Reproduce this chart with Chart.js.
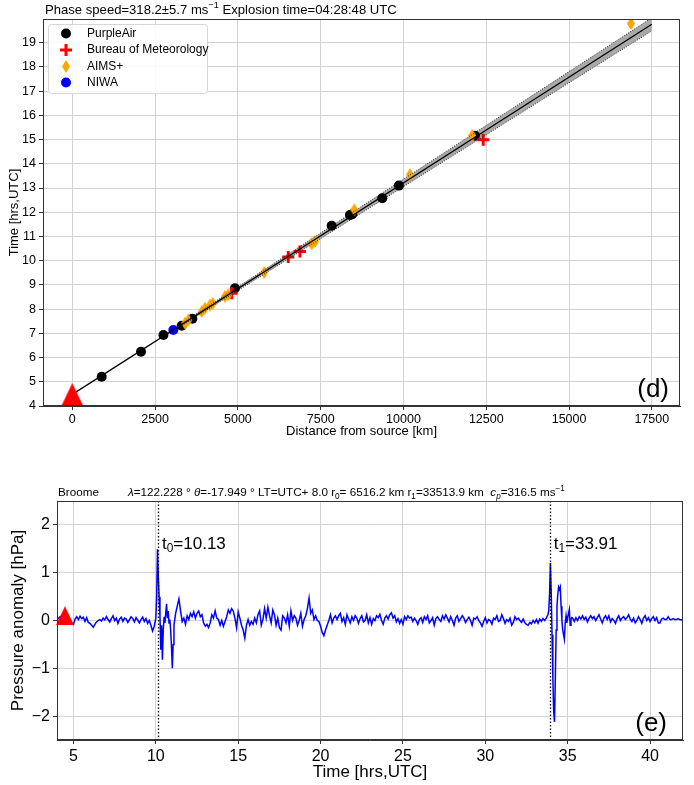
<!DOCTYPE html>
<html><head><meta charset="utf-8">
<script src="https://cdn.jsdelivr.net/npm/chart.js@4"></script>
<style>
html,body{margin:0;padding:0;background:#fff;width:694px;height:785px;overflow:hidden}
canvas{position:absolute;left:0}
#c1{top:0}
#c2{top:440px}
</style></head><body>
<canvas id="c1" width="694" height="440"></canvas>
<canvas id="c2" width="694" height="345"></canvas>
<script>
// ---------- Panel (d) data ----------
const distTicks = [0, 2500, 5000, 7500, 10000, 12500, 15000, 17500];
const timeTicks = [4, 5, 6, 7, 8, 9, 10, 11, 12, 13, 14, 15, 16, 17, 18, 19];

const purpleDist = [887, 2074, 2752, 3303, 3625, 4912, 7831, 8384, 8453, 9359, 9863, 12157];
const purpleTime = [5.21, 6.24, 6.93, 7.31, 7.6, 8.86, 11.44, 11.89, 11.92, 12.58, 13.1, 15.16];

const bomDist = [4811, 6521, 6874, 12408];
const bomTime = [8.66, 10.15, 10.38, 14.99];

const aimsDist = [3402, 3503, 3906, 4006, 4157, 4238, 4610, 4710, 5797, 7227, 7327, 8514, 10195, 12076, 16867];
const aimsTime = [7.42, 7.55, 7.9, 8.04, 8.17, 8.24, 8.52, 8.59, 9.51, 10.69, 10.79, 12.1, 13.55, 15.17, 19.79];

const niwaDist = [3050];
const niwaTime = [7.14];

const fitDist = [0, 17500];
const fitTime = [4.48, 19.76];
const bandDist = [3300, 17500];
const bandHi = [7.41, 20.03];
const bandLo = [7.31, 19.49];

const explosionTime = 4.47;

// ---------- Panel (e) data ----------
const hourTicks = [5, 10, 15, 20, 25, 30, 35, 40];
const presTicks = [-2, -1, 0, 1, 2];
const arrivalTimes = [10.13, 33.91];

const traceTime = [
4.0,4.1,4.2,4.3,4.4,4.5,4.6,4.7,4.8,4.9,
5.0,5.1,5.2,5.3,5.4,5.5,5.6,5.7,5.8,5.9,
6.0,6.1,6.2,6.3,6.4,6.5,6.6,6.7,6.8,6.9,
7.0,7.1,7.2,7.3,7.4,7.5,7.6,7.7,7.8,7.9,
8.0,8.1,8.2,8.3,8.4,8.5,8.6,8.7,8.8,8.9,
9.0,9.1,9.2,9.3,9.4,9.5,9.6,9.7,9.8,9.9,
10.0,
10.05,10.1,10.15,10.2,10.25,10.3,10.35,10.4,10.45,10.5,
10.55,10.6,10.65,10.7,10.75,10.8,10.85,10.9,10.95,11.0,11.05,
11.1,11.2,11.3,11.4,11.5,11.6,11.7,11.8,11.9,12.0,
12.1,12.2,12.3,12.4,12.5,12.6,12.7,12.8,12.9,13.0,
13.1,13.2,13.3,13.4,13.5,13.6,13.7,13.8,13.9,14.0,
14.1,14.2,14.3,14.4,14.5,14.6,14.7,14.8,14.9,15.0,
15.1,15.2,15.3,15.4,15.5,15.6,15.7,15.8,15.9,16.0,
16.1,16.2,16.3,16.4,16.5,16.6,16.7,16.8,16.9,17.0,
17.1,17.2,17.3,17.4,17.5,17.6,17.7,17.8,17.9,18.0,
18.1,18.2,18.3,18.4,18.5,18.6,18.7,18.8,18.9,19.0,
19.1,19.2,19.3,19.4,19.5,19.6,19.7,19.8,19.9,20.0,
20.1,20.2,20.3,20.4,20.5,20.6,20.7,20.8,20.9,21.0,
21.1,21.2,21.3,21.4,21.5,21.6,21.7,21.8,21.9,22.0,
22.1,22.2,22.3,22.4,22.5,22.6,22.7,22.8,22.9,23.0,
23.1,23.2,23.3,23.4,23.5,23.6,23.7,23.8,23.9,24.0,
24.1,24.2,24.3,24.4,24.5,24.6,24.7,24.8,24.9,25.0,
25.1,25.2,25.3,25.4,25.5,25.6,25.7,25.8,25.9,26.0,
26.1,26.2,26.3,26.4,26.5,26.6,26.7,26.8,26.9,27.0,
27.1,27.2,27.3,27.4,27.5,27.6,27.7,27.8,27.9,28.0,
28.1,28.2,28.3,28.4,28.5,28.6,28.7,28.8,28.9,29.0,
29.1,29.2,29.3,29.4,29.5,29.6,29.7,29.8,29.9,30.0,
30.1,30.2,30.3,30.4,30.5,30.6,30.7,30.8,30.9,31.0,
31.1,31.2,31.3,31.4,31.5,31.6,31.7,31.8,31.9,32.0,
32.1,32.2,32.3,32.4,32.5,32.6,32.7,32.8,32.9,33.0,
33.1,33.2,33.3,33.4,33.5,33.6,33.7,33.8,
33.85,33.9,33.95,34.0,34.05,34.1,34.15,34.2,34.25,34.3,
34.35,34.4,34.45,34.5,34.55,34.6,34.65,34.7,34.75,34.8,
34.85,34.9,34.95,35.0,35.05,35.1,35.15,35.2,35.25,
35.3,35.4,35.5,35.6,35.7,35.8,35.9,36.0,36.1,36.2,
36.3,36.4,36.5,36.6,36.7,36.8,36.9,37.0,37.1,37.2,
37.3,37.4,37.5,37.6,37.7,37.8,37.9,38.0,38.1,38.2,
38.3,38.4,38.5,38.6,38.7,38.8,38.9,39.0,39.1,39.2,
39.3,39.4,39.5,39.6,39.7,39.8,39.9,40.0,40.1,40.2,
40.3,40.4,40.5,40.6,40.7,40.8,40.9,41.0,41.1,41.2,
41.3,41.4,41.5,41.6,41.7,41.8,41.9,42.0
];
const tracePres = [
0.02,0.05,0.08,0.04,0.06,0.0,0.03,-0.02,0.0,-0.05,
-0.08,0.03,0.08,0.02,0.09,0.04,0.07,-0.02,0.06,-0.04,
-0.06,-0.1,-0.14,-0.08,-0.03,0.0,0.02,-0.01,0.05,0.01,
0.08,0.02,-0.03,0.04,0.1,0.0,0.05,-0.06,0.03,0.07,
-0.02,0.05,0.03,-0.04,0.02,0.08,0.04,-0.03,0.06,0.01,
-0.05,0.02,0.07,-0.02,0.04,-0.06,0.0,-0.1,-0.22,-0.12,
0.05,
0.5,1.49,0.9,0.49,0.1,-0.61,-0.1,-0.82,-0.2,0.08,
-0.05,0.15,0.35,0.05,0.2,-0.05,0.02,-0.2,-0.55,-1.0,-0.5,
-0.1,0.15,0.3,0.45,0.2,-0.02,0.05,-0.08,0.1,0.02,
0.15,0.08,0.18,0.05,0.15,0.2,0.08,0.12,-0.05,-0.12,
-0.08,-0.15,-0.05,0.12,0.05,0.2,0.05,0.02,-0.1,0.0,
-0.12,-0.02,0.08,0.22,0.15,0.25,0.2,0.05,-0.15,0.18,
0.05,-0.1,-0.2,-0.37,-0.1,0.02,-0.1,-0.02,-0.08,0.05,
-0.05,0.12,0.2,-0.1,0.02,0.25,0.05,0.28,0.1,-0.05,
0.22,0.12,-0.1,0.05,-0.15,-0.2,0.1,0.05,-0.05,0.12,
-0.12,0.2,0.0,0.1,0.05,-0.1,0.0,0.15,-0.12,0.02,
0.1,0.25,0.47,0.15,0.22,0.02,0.1,0.0,-0.02,-0.12,
-0.25,-0.32,-0.2,-0.1,0.0,0.12,-0.05,0.05,0.1,0.02,
0.1,0.15,-0.02,0.06,-0.08,0.12,0.03,-0.05,0.08,0.0,
0.1,0.05,-0.06,0.04,0.1,-0.03,0.0,0.12,-0.05,0.06,
-0.08,0.04,0.0,0.1,0.06,0.13,0.0,-0.08,0.05,0.1,
0.03,0.12,0.16,0.05,0.1,-0.03,0.04,-0.06,0.02,-0.08,
0.08,0.02,0.1,0.05,0.07,-0.02,0.05,0.0,-0.08,0.02,
0.06,-0.04,0.08,0.02,0.1,-0.05,0.0,0.06,-0.1,0.04,
0.08,0.02,-0.02,0.1,0.03,0.12,0.05,-0.03,0.08,0.0,
-0.1,0.05,0.1,-0.02,0.04,0.1,0.05,-0.04,0.02,0.07,
0.0,-0.1,0.05,0.03,0.08,0.0,-0.05,-0.12,-0.02,0.06,
-0.05,0.02,0.0,-0.08,0.05,0.02,0.1,-0.02,0.0,0.12,
0.04,-0.06,0.02,-0.02,0.05,-0.1,-0.04,0.08,0.02,0.05,
0.0,-0.04,0.03,-0.05,-0.08,-0.1,-0.04,-0.07,0.0,-0.05,
0.02,-0.06,0.03,-0.02,0.04,0.0,0.05,0.12,
0.2,0.55,1.2,0.6,-0.3,-1.2,-1.9,-2.12,-1.2,-0.2,
0.3,0.55,0.7,0.65,0.7,0.3,0.0,-0.2,-0.3,-0.39,
-0.05,0.1,-0.05,0.05,0.15,0.23,-0.1,0.02,0.06,
0.05,-0.02,0.06,0.0,0.08,0.03,0.1,0.02,0.07,-0.03,
0.05,0.1,0.04,0.08,0.0,0.06,0.12,0.03,-0.05,0.05,
0.1,0.02,0.1,-0.03,0.04,0.0,-0.06,0.04,0.1,0.0,
0.05,0.08,0.02,0.06,0.12,0.03,-0.02,0.05,-0.05,0.0,
0.08,0.02,-0.06,0.05,0.1,0.0,0.06,-0.02,0.04,0.08,
0.0,0.06,-0.05,-0.05,0.03,0.05,0.02,0.02,0.08,0.02,
0.02,0.04,0.02,0.02,0.04,0.02,0.01,0.02
];
const explosionMark = {x: 4.48, y: 0.1};

// ---------- helpers ----------
const FONT = '"Liberation Sans", Arial, Helvetica, sans-serif';
const pts = (xs, ys) => xs.map((x, i) => ({x: x, y: ys[i]}));

function makeDiamond(w, h, color) {
  const c = document.createElement('canvas'); c.width = w; c.height = h;
  const g = c.getContext('2d'); g.fillStyle = color; g.beginPath();
  g.moveTo(w / 2, 0); g.lineTo(w, h / 2); g.lineTo(w / 2, h); g.lineTo(0, h / 2); g.closePath(); g.fill();
  return c;
}
function makeTriangle(w, h, color) {
  const c = document.createElement('canvas'); c.width = w; c.height = h;
  const g = c.getContext('2d'); g.fillStyle = color; g.beginPath();
  g.moveTo(w / 2, 0); g.lineTo(w, h); g.lineTo(0, h); g.closePath(); g.fill();
  return c;
}
const diamondImg = makeDiamond(8, 13, '#ffa500');
const triTop = makeTriangle(22, 23, '#ff0000');
const triBot = makeTriangle(18, 19, '#ff0000');

function drawRich(ctx, x, y, parts, size, align, color) {
  const fontFor = p => {
    const small = (p[1] === 'sup' || p[1] === 'sub');
    const it = (p[1] === 'i' || p[2] === 'i') ? 'italic ' : '';
    return it + (small ? size * 0.7 : size) + 'px ' + FONT;
  };
  let w = 0;
  for (const p of parts) { ctx.font = fontFor(p); w += ctx.measureText(p[0]).width; }
  let cx = align === 'center' ? x - w / 2 : align === 'right' ? x - w : x;
  ctx.textBaseline = 'middle'; ctx.textAlign = 'left'; ctx.fillStyle = color || '#000';
  for (const p of parts) {
    ctx.font = fontFor(p);
    const dy = p[1] === 'sup' ? -size * 0.38 : p[1] === 'sub' ? size * 0.3 : 0;
    ctx.fillText(p[0], cx, y + dy);
    cx += ctx.measureText(p[0]).width;
  }
}
function drawRotated(ctx, text, x, y, size) {
  ctx.save(); ctx.translate(x, y); ctx.rotate(-Math.PI / 2);
  ctx.font = size + 'px ' + FONT; ctx.fillStyle = '#000';
  ctx.textAlign = 'center'; ctx.textBaseline = 'middle';
  ctx.fillText(text, 0, 0); ctx.restore();
}
function frame(ctx, a) {
  ctx.strokeStyle = '#333'; ctx.lineWidth = 1;
  ctx.strokeRect(Math.round(a.left) + 0.5, Math.round(a.top) + 0.5,
                 Math.round(a.right - a.left) - 1, Math.round(a.bottom - a.top) - 1);
}
const GRID = '#d3d3d3';

// ---------- Panel (d) ----------
const decoTop = {
  id: 'decoTop',
  afterDraw(chart) {
    const ctx = chart.ctx, a = chart.chartArea;
    ctx.save();
    frame(ctx, a);
    drawRich(ctx, 45, 10, [['Phase speed=318.2±5.7 ms'], ['−1', 'sup'], [' Explosion time=04:28:48 UTC']], 13.1, 'left');
    drawRotated(ctx, 'Time [hrs,UTC]', 14, (a.top + a.bottom) / 2, 13);
    ctx.font = '13px ' + FONT; ctx.fillStyle = '#000'; ctx.textAlign = 'center'; ctx.textBaseline = 'middle';
    ctx.fillText('Distance from source [km]', (a.left + a.right) / 2, 431);
    ctx.font = '26px ' + FONT; ctx.textAlign = 'right'; ctx.textBaseline = 'alphabetic';
    ctx.fillText('(d)', a.right - 11, a.bottom - 9);
    // legend
    const lx = 48, ly = 24, lw = 159, lh = 69;
    ctx.fillStyle = 'rgba(255,255,255,0.85)'; ctx.strokeStyle = '#d6d6d6'; ctx.lineWidth = 1;
    ctx.beginPath(); ctx.roundRect(lx + 0.5, ly + 0.5, lw, lh, 3); ctx.fill(); ctx.stroke();
    const rows = [33.5, 50, 66.5, 82.5], mx = 66, tx = 87;
    ctx.fillStyle = '#000'; ctx.beginPath(); ctx.arc(mx, rows[0], 5, 0, Math.PI * 2); ctx.fill();
    ctx.strokeStyle = '#ff0000'; ctx.lineWidth = 3; ctx.beginPath();
    ctx.moveTo(mx - 6, rows[1]); ctx.lineTo(mx + 6, rows[1]); ctx.moveTo(mx, rows[1] - 6); ctx.lineTo(mx, rows[1] + 6); ctx.stroke();
    ctx.drawImage(diamondImg, mx - 4, rows[2] - 6.5);
    ctx.fillStyle = '#0000ff'; ctx.beginPath(); ctx.arc(mx, rows[3], 5, 0, Math.PI * 2); ctx.fill();
    ctx.fillStyle = '#000'; ctx.font = '12px ' + FONT; ctx.textAlign = 'left'; ctx.textBaseline = 'middle';
    ['PurpleAir', 'Bureau of Meteorology', 'AIMS+', 'NIWA'].forEach((t, i) => ctx.fillText(t, tx, rows[i]));
    ctx.restore();
  }
};

new Chart(document.getElementById('c1'), {
  type: 'scatter',
  data: {
    datasets: [
      {data: [{x: 0, y: explosionTime}], pointStyle: triTop, pointRadius: 11, clip: false},
      {data: pts(fitDist, fitTime), showLine: true, borderColor: '#000', borderWidth: 1.2, pointRadius: 0},
      {data: pts(bandDist, bandHi), showLine: true, borderColor: '#222', borderWidth: 1, borderDash: [1, 1.5],
       pointRadius: 0, fill: '+1', backgroundColor: '#a9a9a9'},
      {data: pts(bandDist, bandLo), showLine: true, borderColor: '#222', borderWidth: 1, borderDash: [1, 1.5], pointRadius: 0},
      {data: pts(niwaDist, niwaTime), pointStyle: 'circle', pointRadius: 5, backgroundColor: '#0000ff', borderWidth: 0},
      {data: pts(aimsDist, aimsTime), pointStyle: diamondImg, pointRadius: 6},
      {data: pts(bomDist, bomTime), pointStyle: 'cross', pointRadius: 6, borderColor: '#ff0000', borderWidth: 3},
      {data: pts(purpleDist, purpleTime), pointStyle: 'circle', pointRadius: 5, backgroundColor: '#000', borderWidth: 0}
    ]
  },
  options: {
    responsive: false, animation: false, devicePixelRatio: 1, events: [],
    layout: {padding: {left: 0, right: 14, top: 19, bottom: 0}},
    plugins: {legend: {display: false}, tooltip: {enabled: false}, filler: {drawTime: 'beforeDatasetsDraw'}},
    scales: {
      x: {
        type: 'linear', min: -885, max: 18350,
        afterBuildTicks: s => { s.ticks = distTicks.map(v => ({value: v})); },
        afterFit: s => { s.height = 34; },
        ticks: {callback: v => String(v), font: {size: 12.5, family: FONT}, color: '#000', padding: 2, maxRotation: 0, autoSkip: false},
        grid: {color: GRID, lineWidth: 1, tickLength: 4, tickColor: '#333'},
        border: {display: true, color: '#333', width: 1}
      },
      y: {
        type: 'linear', min: 4, max: 19.98,
        afterBuildTicks: s => { s.ticks = timeTicks.map(v => ({value: v})); },
        afterFit: s => { s.width = 43; },
        ticks: {callback: v => String(v), font: {size: 12.5, family: FONT}, color: '#000', padding: 3, autoSkip: false},
        grid: {color: GRID, lineWidth: 1, tickLength: 4, tickColor: '#333'},
        border: {display: true, color: '#333', width: 1}
      }
    }
  },
  plugins: [decoTop]
});

// ---------- Panel (e) ----------
const decoBot = {
  id: 'decoBot',
  afterDatasetsDraw(chart) {
    const ctx = chart.ctx, a = chart.chartArea, xs = chart.scales.x;
    ctx.save();
    ctx.strokeStyle = '#000'; ctx.lineWidth = 1.3; ctx.setLineDash([1.5, 2]);
    arrivalTimes.forEach(t => {
      const px = Math.round(xs.getPixelForValue(t)) + 0.5;
      ctx.beginPath(); ctx.moveTo(px, a.top); ctx.lineTo(px, a.bottom); ctx.stroke();
    });
    ctx.restore();
  },
  afterDraw(chart) {
    const ctx = chart.ctx, a = chart.chartArea, xs = chart.scales.x;
    ctx.save();
    frame(ctx, a);
    ctx.font = '11.7px ' + FONT; ctx.fillStyle = '#000'; ctx.textAlign = 'left'; ctx.textBaseline = 'middle';
    ctx.fillText('Broome', a.left + 1, 53);
    drawRich(ctx, 128, 53, [['λ', 'i'], ['=122.228 ° '], ['θ', 'i'], ['=-17.949 ° LT=UTC+ 8.0 r'], ['0', 'sub'],
      ['= 6516.2 km r'], ['1', 'sub'], ['=33513.9 km  '], ['c', 'i'], ['p', 'sub', 'i'], ['=316.5 ms'], ['−1', 'sup']], 11.7, 'left');
    drawRich(ctx, xs.getPixelForValue(arrivalTimes[0]) + 4, 104, [['t'], ['0', 'sub'], ['=10.13']], 17, 'left');
    drawRich(ctx, xs.getPixelForValue(arrivalTimes[1]) + 4, 104, [['t'], ['1', 'sub'], ['=33.91']], 17, 'left');
    ctx.font = '26px ' + FONT; ctx.fillStyle = '#000'; ctx.textAlign = 'right'; ctx.textBaseline = 'alphabetic';
    ctx.fillText('(e)', a.right - 16, a.bottom - 9);
    drawRotated(ctx, 'Pressure anomaly [hPa]', 18, (a.top + a.bottom) / 2, 17);
    ctx.font = '17px ' + FONT; ctx.textAlign = 'center'; ctx.textBaseline = 'middle';
    ctx.fillText('Time [hrs,UTC]', (a.left + a.right) / 2, 332);
    ctx.restore();
  }
};

new Chart(document.getElementById('c2'), {
  type: 'scatter',
  data: {
    datasets: [
      {data: [explosionMark], pointStyle: triBot, pointRadius: 10, clip: false},
      {data: pts(traceTime, tracePres), showLine: true, borderColor: '#0000ff', borderWidth: 1.5, pointRadius: 0, tension: 0}
    ]
  },
  options: {
    responsive: false, animation: false, devicePixelRatio: 1, events: [],
    layout: {padding: {left: 0, right: 9, top: 61, bottom: 0}},
    plugins: {legend: {display: false}, tooltip: {enabled: false}},
    scales: {
      x: {
        type: 'linear', min: 4, max: 42,
        afterBuildTicks: s => { s.ticks = hourTicks.map(v => ({value: v})); },
        afterFit: s => { s.height = 45; },
        ticks: {callback: v => String(v), font: {size: 16, family: FONT}, color: '#000', padding: 3, maxRotation: 0, autoSkip: false},
        grid: {color: GRID, lineWidth: 1, tickLength: 4, tickColor: '#333'},
        border: {display: true, color: '#333', width: 1}
      },
      y: {
        type: 'linear', min: -2.5, max: 2.5,
        afterBuildTicks: s => { s.ticks = presTicks.map(v => ({value: v})); },
        afterFit: s => { s.width = 57; },
        ticks: {callback: v => (v < 0 ? '−' + Math.abs(v) : String(v)), font: {size: 16, family: FONT}, color: '#000', padding: 3, autoSkip: false},
        grid: {color: GRID, lineWidth: 1, tickLength: 4, tickColor: '#333'},
        border: {display: true, color: '#333', width: 1}
      }
    }
  },
  plugins: [decoBot]
});
</script>
</body></html>
